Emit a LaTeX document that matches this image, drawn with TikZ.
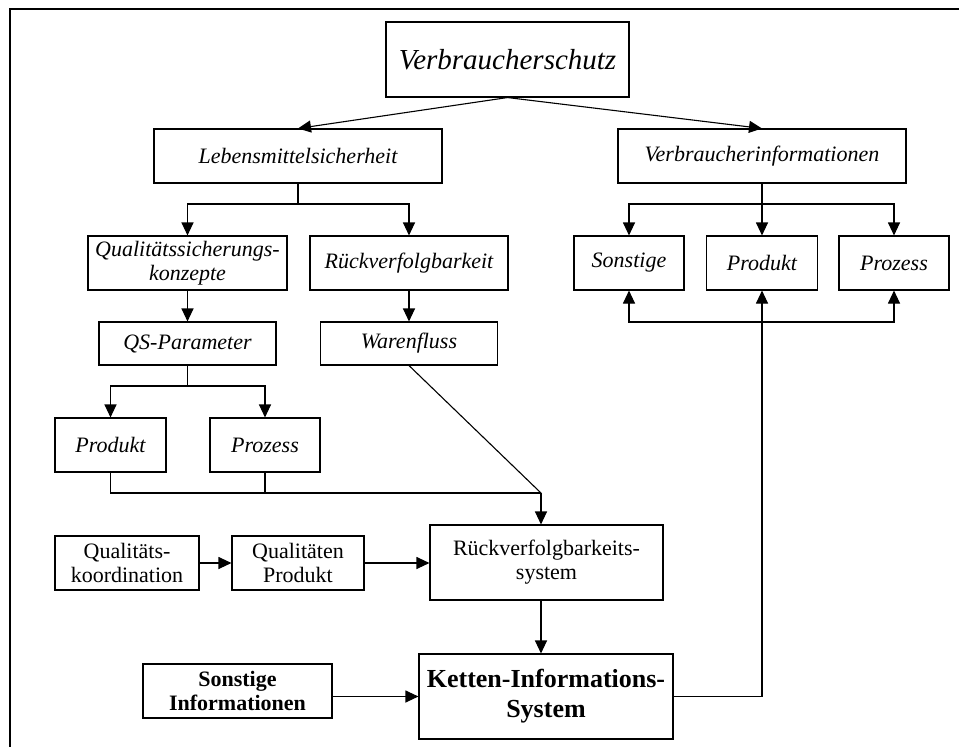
\documentclass[tikz,border=0pt]{standalone}
\usepackage{fontspec}
\setmainfont{Liberation Serif}
\usetikzlibrary{arrows.meta}

\begin{document}
\begin{tikzpicture}[
    x=1pt, y=-1pt,
    >={Triangle[length=13pt,width=12pt]},
    box/.style={rectangle, draw, line width=1.1pt, inner sep=0pt, align=center,
      font=\fontsize{22}{24}\selectfont},
    itbox/.style={box, font=\fontsize{22}{24}\selectfont\itshape},
    conn/.style={line width=1.1pt},
    arr/.style={->, line width=1.1pt},
]
\useasboundingbox (0,0) rectangle (959,747);

% frame
\draw[line width=1.6pt] (959,9) -- (10,9) -- (10,747);

% top
\node[itbox, minimum width=243pt, minimum height=75pt, font=\fontsize{29}{32}\selectfont\itshape] (vschutz) at (507.5,59.5) {Verbraucherschutz};
\node[itbox, minimum width=288pt, minimum height=54pt] (lmsich) at (298,156) {Lebensmittelsicherheit};
\node[itbox, minimum width=288pt, minimum height=54pt] (vinfo) at (762,156) {Verbraucherinformationen};

% Lebensmittelsicherheit
\node[itbox, minimum width=199pt, minimum height=54pt] (qskonz) at (187.5,263) {Qualitätssicherungs-\\konzepte};
\node[itbox, minimum width=198pt, minimum height=54pt] (rvb) at (409,263) {Rückverfolgbarkeit};
\node[itbox, minimum width=177pt, minimum height=43pt] (qspar) at (187.5,343.5) {QS-Parameter};
\node[itbox, minimum width=177pt, minimum height=43pt] (wfluss) at (409,343.5) {Warenfluss};
\node[itbox, minimum width=111pt, minimum height=54pt] (qsprod) at (110.5,445) {Produkt};
\node[itbox, minimum width=110pt, minimum height=54pt] (qsproz) at (265,445) {Prozess};

% Verbraucherinformationen
\node[itbox, minimum width=110pt, minimum height=54pt] (vsonst) at (629,263) {Sonstige};
\node[itbox, minimum width=111pt, minimum height=54pt] (vprod) at (762,263) {Produkt};
\node[itbox, minimum width=110pt, minimum height=54pt] (vproz) at (894,263) {Prozess};

% bottom
\node[box, minimum width=144pt, minimum height=54pt] (qkoord) at (127,563) {Qualitäts-\\koordination};
\node[box, minimum width=132pt, minimum height=54pt] (qualprod) at (298,563) {Qualitäten\\Produkt};
\node[box, minimum width=233pt, minimum height=75pt] (rsys) at (546.5,562.5) {Rückverfolgbarkeits-\\system};
\node[box, minimum width=189pt, minimum height=54pt, font=\fontsize{22}{24}\selectfont\bfseries] (sinfo) at (237.5,691) {Sonstige\\Informationen};
\node[box, minimum width=254pt, minimum height=85pt, font=\fontsize{26}{30}\selectfont\bfseries] (kis) at (546,696.5) {Ketten-Informations-\\System};

% forks
\coordinate (lmsfork) at (298,204);
\coordinate (vifork) at (762,204);
\coordinate (qsfork) at (187.5,386);
\coordinate (join) at (541,493);
\coordinate (vlow) at (762,322);

\draw[arr] (vschutz.south) -- (lmsich.north);
\draw[arr] (vschutz.south) -- (vinfo.north);

\draw[conn] (lmsich.south) -- (lmsfork);
\draw[arr] (lmsfork) -| (qskonz.north);
\draw[arr] (lmsfork) -| (rvb.north);

\draw[conn] (vinfo.south) -- (vifork);
\draw[arr] (vifork) -| (vsonst.north);
\draw[arr] (vifork) -- (vprod.north);
\draw[arr] (vifork) -| (vproz.north);

\draw[arr] (qskonz.south) -- (qspar.north);
\draw[arr] (rvb.south) -- (wfluss.north);

\draw[conn] (qspar.south) -- (qsfork);
\draw[arr] (qsfork) -| (qsprod.north);
\draw[arr] (qsfork) -| (qsproz.north);

% into Rueckverfolgbarkeitssystem
\draw[conn] (qsprod.south) |- (join);
\draw[conn] (qsproz.south) -- (qsproz.south |- join);
\draw[conn] (wfluss.south) -- (join);
\draw[arr] (join) -- (join |- rsys.north);

\draw[arr] (qkoord.east) -- (qualprod.west);
\draw[arr] (qualprod.east) -- (qualprod.east -| rsys.west);
\draw[arr] (join |- rsys.south) -- (join |- kis.north);
\draw[arr] (kis.west -| sinfo.east) -- (kis.west);

% back to the consumer
\draw[arr] (kis.east) -| (vprod.south);
\draw[arr] (vlow) -| (vsonst.south);
\draw[arr] (vlow) -| (vproz.south);

\end{tikzpicture}
\end{document}
